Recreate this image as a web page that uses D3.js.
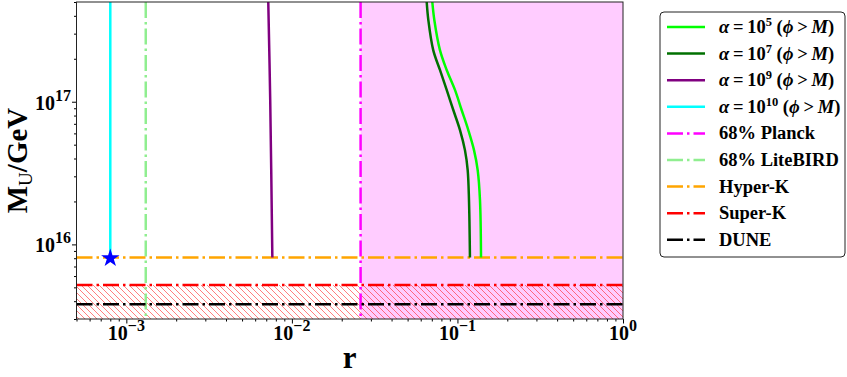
<!DOCTYPE html>
<html>
<head>
<meta charset="utf-8">
<script src="https://cdn.jsdelivr.net/npm/d3@7"></script>
<style>
  body { margin: 0; background: #fff; }
  text { font-family: "Liberation Serif", "Times New Roman", serif; font-weight: bold; fill: #000; }
</style>
</head>
<body>
<div id="chart"></div>
<script>
// ---- data ----
// curves: r values and M_U values (GeV), top to bottom
var rAlpha5  = [0.0705, 0.0725, 0.0784, 0.0861, 0.0966, 0.106, 0.1163, 0.1259, 0.1325, 0.1368, 0.1388];
var mAlpha5  = [5e17, 3.74e17, 2.30e17, 1.67e17, 1.21e17, 8.75e16, 6.33e16, 4.58e16, 3.32e16, 2.05e16, 8.1e15];
var rAlpha7  = [0.0652, 0.0667, 0.0714, 0.0784, 0.0861, 0.0944, 0.1036, 0.111, 0.1153, 0.1174, 0.119];
var mAlpha7  = [5e17, 3.74e17, 2.30e17, 1.67e17, 1.21e17, 8.75e16, 6.33e16, 4.58e16, 3.32e16, 2.05e16, 8.1e15];
var rAlpha9  = [7.2e-3, 7.4e-3, 7.62e-3];
var mAlpha9  = [5e17, 1.0e17, 8.1e15];
var rAlpha10 = [8e-4, 8e-4];
var mAlpha10 = [5e17, 8.1e15];
var starPoint = [8e-4, 8.0e15];

// vertical bounds on r
var rPlanck = 0.026;
var rLiteBIRD = 1.31e-3;
// horizontal bounds on M_U
var mHyperK = 8.1e15;
var mSuperK = 5.2e15;
var mDUNE = 3.8e15;

var xTicks = [1e-3, 1e-2, 1e-1, 1];
var xTickExp = ['\u22123', '\u22122', '\u22121', '0'];
var yTicks = [1e16, 1e17];
var yTickExp = ['16', '17'];
var xDomain = [5e-4, 1];
var yDomain = [3e15, 5e17];

var legendNames = ['a5', 'a7', 'a9', 'a10', 'Planck', 'LiteBIRD', 'Hyper-K', 'Super-K', 'DUNE'];

// ---- layout ----
const width = 847, height = 377;
const plot = {left: 76.5, right: 623, top: 2, bottom: 319};
const lw = 2.5;
const dashdot = [6.4 * lw, 1.6 * lw, 1 * lw, 1.6 * lw].join(',');

var svg = d3.select('#chart').append('svg')
  .attr('width', width).attr('height', height);

var x = d3.scaleLog().domain(xDomain).range([plot.left, plot.right]);
var y = d3.scaleLog().domain(yDomain).range([plot.bottom, plot.top]);

// hatch pattern
var defs = svg.append('defs');
var pat = defs.append('pattern')
  .attr('id', 'hatch')
  .attr('patternUnits', 'userSpaceOnUse')
  .attr('width', 6).attr('height', 6);
pat.append('path')
  .attr('d', 'M0,0 L6,6 M-1,5 L1,7 M5,-1 L7,1')
  .attr('stroke', '#ff0000').attr('stroke-opacity', 0.5).attr('stroke-width', 1);
defs.append('clipPath').attr('id', 'clip')
  .append('rect')
  .attr('x', plot.left).attr('y', plot.top)
  .attr('width', plot.right - plot.left).attr('height', plot.bottom - plot.top);

var g = svg.append('g').attr('clip-path', 'url(#clip)');

// Planck excluded region
g.append('rect')
  .attr('x', x(rPlanck)).attr('y', plot.top)
  .attr('width', x(xDomain[1]) - x(rPlanck))
  .attr('height', plot.bottom - plot.top)
  .attr('fill', '#ffccff');

// hatched region below Super-K
g.append('rect')
  .attr('x', plot.left).attr('y', y(mSuperK))
  .attr('width', plot.right - plot.left)
  .attr('height', y(yDomain[0]) - y(mSuperK))
  .attr('fill', 'url(#hatch)');

// vertical dash-dot lines
function vline(r, color) {
  g.append('line')
    .attr('x1', x(r)).attr('x2', x(r))
    .attr('y1', plot.top).attr('y2', plot.bottom)
    .attr('stroke', color).attr('stroke-width', lw)
    .attr('stroke-dasharray', dashdot);
}
vline(rPlanck, '#ff00ff');
vline(rLiteBIRD, '#90ee90');

// horizontal dash-dot lines
function hline(m, color) {
  g.append('line')
    .attr('x1', plot.left).attr('x2', plot.right)
    .attr('y1', y(m)).attr('y2', y(m))
    .attr('stroke', color).attr('stroke-width', lw)
    .attr('stroke-dasharray', dashdot);
}
hline(mHyperK, '#ffa500');
hline(mSuperK, '#ff0000');
hline(mDUNE, '#000000');

// curves
var line = d3.line()
  .x(d => x(d[0])).y(d => y(d[1]))
  .curve(d3.curveCatmullRom);
function curve(rs, ms, color) {
  g.append('path')
    .datum(rs.map((r, i) => [r, ms[i]]))
    .attr('d', line)
    .attr('fill', 'none')
    .attr('stroke', color).attr('stroke-width', lw);
}
curve(rAlpha5, mAlpha5, '#00ff00');
curve(rAlpha7, mAlpha7, '#007000');
curve(rAlpha9, mAlpha9, '#800080');
curve(rAlpha10, mAlpha10, '#00ffff');

// star
g.append('path')
  .attr('d', d3.symbol().type(d3.symbolStar).size(105))
  .attr('transform', `translate(${x(starPoint[0])},${y(starPoint[1])})`)
  .attr('fill', '#0000ff');

// ---- axes ----
function minorTicks(domain) {
  var t = [];
  for (var e = Math.floor(Math.log10(domain[0])); e <= Math.ceil(Math.log10(domain[1])); e++) {
    for (var k = 2; k <= 9; k++) {
      var v = k * Math.pow(10, e);
      if (v >= domain[0] * 0.999 && v <= domain[1] * 1.001) t.push(v);
    }
  }
  return t;
}

var xMinor = d3.axisBottom(x).tickValues(minorTicks(xDomain)).tickSize(2.5).tickFormat('');
var xMajor = d3.axisBottom(x).tickValues(xTicks).tickSize(4.5).tickFormat('');
var yMinor = d3.axisLeft(y).tickValues(minorTicks(yDomain)).tickSize(2.5).tickFormat('');
var yMajor = d3.axisLeft(y).tickValues(yTicks).tickSize(4.5).tickFormat('');

[xMinor, xMajor].forEach(function(a) {
  svg.append('g').attr('transform', `translate(0,${plot.bottom})`).call(a)
    .call(s => s.select('.domain').remove());
});
[yMinor, yMajor].forEach(function(a) {
  svg.append('g').attr('transform', `translate(${plot.left},0)`).call(a)
    .call(s => s.select('.domain').remove());
});

// frame
svg.append('rect')
  .attr('x', plot.left).attr('y', plot.top)
  .attr('width', plot.right - plot.left).attr('height', plot.bottom - plot.top)
  .attr('fill', 'none').attr('stroke', '#222').attr('stroke-width', 1);

// tick labels
xTicks.forEach(function(v, i) {
  var t = svg.append('text')
    .attr('x', x(v)).attr('y', 340)
    .attr('text-anchor', 'middle')
    .style('font-size', '20px');
  t.append('tspan').text('10');
  t.append('tspan').attr('dy', -9).style('font-size', '16px').text(xTickExp[i]);
});
yTicks.forEach(function(v, i) {
  var t = svg.append('text')
    .attr('x', 71).attr('y', y(v) + 8)
    .attr('text-anchor', 'end')
    .style('font-size', '20px');
  t.append('tspan').text('10');
  t.append('tspan').attr('dy', -9).style('font-size', '16px').text(yTickExp[i]);
});

// axis labels
svg.append('text')
  .attr('x', (plot.left + plot.right) / 2).attr('y', 368)
  .attr('text-anchor', 'middle')
  .style('font-size', '31px')
  .text('r');

var yl = svg.append('text')
  .attr('transform', `translate(27,${(plot.top + plot.bottom) / 2}) rotate(-90)`)
  .attr('text-anchor', 'middle')
  .style('font-size', '29px');
yl.append('tspan').text('M');
yl.append('tspan').attr('dy', 5).style('font-size', '19px').style('font-weight', 'normal').text('U');
yl.append('tspan').attr('dy', -5).text('/GeV');

// ---- legend ----
var legend = svg.append('g');
legend.append('rect')
  .attr('x', 660).attr('y', 12)
  .attr('width', 185).attr('height', 245)
  .attr('rx', 4)
  .attr('fill', '#fff').attr('stroke', '#222').attr('stroke-width', 1);

var legendStyle = {
  'a5':      {color: '#00ff00', dash: null, exp: '5'},
  'a7':      {color: '#007000', dash: null, exp: '7'},
  'a9':      {color: '#800080', dash: null, exp: '9'},
  'a10':     {color: '#00ffff', dash: null, exp: '10'},
  'Planck':  {color: '#ff00ff', dash: dashdot, label: '68% Planck'},
  'LiteBIRD':{color: '#90ee90', dash: dashdot, label: '68% LiteBIRD'},
  'Hyper-K': {color: '#ffa500', dash: dashdot, label: 'Hyper-K'},
  'Super-K': {color: '#ff0000', dash: dashdot, label: 'Super-K'},
  'DUNE':    {color: '#000000', dash: dashdot, label: 'DUNE'}
};

legendNames.forEach(function(name, i) {
  var st = legendStyle[name];
  var ly = 27 + i * 26.6;
  legend.append('line')
    .attr('x1', 667).attr('x2', 705)
    .attr('y1', ly).attr('y2', ly)
    .attr('stroke', st.color).attr('stroke-width', lw)
    .attr('stroke-dasharray', st.dash);
  var t = legend.append('text')
    .attr('x', 719).attr('y', ly + 6)
    .style('font-size', '18.5px');
  if (st.exp) {
    t.append('tspan').style('font-style', 'italic').text('\u03b1');
    t.append('tspan').text('\u2009=\u200910');
    t.append('tspan').attr('dy', -7).style('font-size', '12.5px').text(st.exp);
    t.append('tspan').attr('dy', 7).text(' (');
    t.append('tspan').style('font-style', 'italic').text('\u03d5');
    t.append('tspan').text('\u2009>\u2009');
    t.append('tspan').style('font-style', 'italic').text('M');
    t.append('tspan').text(')');
  } else {
    t.text(st.label);
  }
});
</script>
</body>
</html>
